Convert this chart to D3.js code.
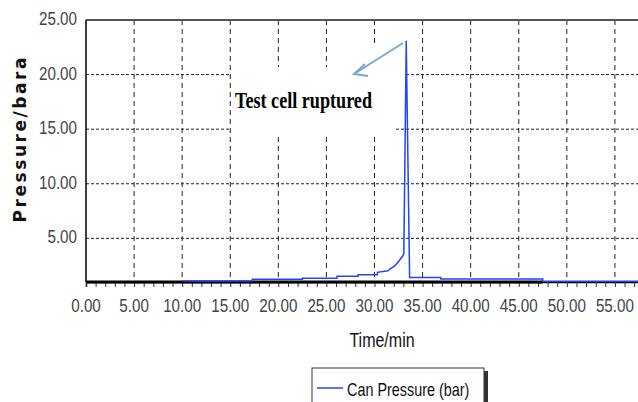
<!DOCTYPE html>
<html>
<head>
<meta charset="utf-8">
<script src="https://cdn.jsdelivr.net/npm/d3@7"></script>
<style>
  body { margin: 0; background: #fff; }
  svg { display: block; }
</style>
</head>
<body>
<svg width="638" height="402"></svg>
<script>
// blue series, can pressure (bar) against time (min)
var timeMin = [10, 17.3, 17.3, 22.5, 22.5, 26.1, 26.1, 28.3, 28.3, 30.3, 30.3, 31.4, 31.6, 32.1, 32.6, 32.95, 33.05, 33.3, 33.65, 36.9, 36.9, 47.5, 47.5, 60];
var canPressure = [1.1, 1.1, 1.25, 1.25, 1.35, 1.35, 1.52, 1.52, 1.67, 1.67, 1.89, 2.03, 2.19, 2.47, 3.0, 3.4, 3.6, 23.1, 1.42, 1.42, 1.27, 1.27, 1.06, 1.06];
// black base line (second trace)
var baseTime = [0, 47.5];
var basePressure = [1.0, 1.0];

var xTicks = [0, 5, 10, 15, 20, 25, 30, 35, 40, 45, 50, 55];
var yTicks = [5, 10, 15, 20, 25];
var legendLabel = 'Can Pressure (bar)';
var noteLabel = 'Test cell ruptured';

var svg = d3.select('svg');

var scaleX = d3.scaleLinear().domain([0, 60]).range([86, 663]);
var scaleY = d3.scaleLinear().domain([1, 25]).range([282, 20]);

// no narrow font installed, so squeeze Liberation Sans sideways
function narrowText(g, x, y, size, anchor, fill, str){
    return g.append('text')
        .attr('transform', 'translate(' + x + ',' + y + ') scale(0.8,1)')
        .attr('text-anchor', anchor)
        .attr('font-family', '"Liberation Sans", Arial, sans-serif')
        .attr('font-size', size)
        .attr('fill', fill)
        .text(str);
}

// grid lines
svg.append('g')
    .selectAll('line')
    .data(xTicks.filter(function(d){ return d > 0; }))
    .enter()
    .append('line')
    .attr('x1', function(d){ return scaleX(d); })
    .attr('x2', function(d){ return scaleX(d); })
    .attr('y1', scaleY(25))
    .attr('y2', scaleY(1))
    .attr('stroke', '#222')
    .attr('stroke-width', 1)
    .attr('stroke-dasharray', '5,4');

svg.append('g')
    .selectAll('line')
    .data(yTicks.filter(function(d){ return d < 25; }))
    .enter()
    .append('line')
    .attr('x1', scaleX(0))
    .attr('x2', 638)
    .attr('y1', function(d){ return scaleY(d); })
    .attr('y2', function(d){ return scaleY(d); })
    .attr('stroke', '#222')
    .attr('stroke-width', 1)
    .attr('stroke-dasharray', '3,2');

// white boxes of the note and arrow hide the grid
svg.append('rect').attr('x', 231).attr('y', 67).attr('width', 164).attr('height', 70).attr('fill', '#fff');
svg.append('rect').attr('x', 345).attr('y', 43).attr('width', 60).attr('height', 84).attr('fill', '#fff');

// top border
svg.append('line')
    .attr('x1', scaleX(0)).attr('x2', 638)
    .attr('y1', scaleY(25)).attr('y2', scaleY(25))
    .attr('stroke', '#555').attr('stroke-width', 2);

// x axis with minor ticks every minute
var xAxis = svg.append('g')
    .attr('transform', 'translate(0,' + scaleY(1) + ')')
    .call(d3.axisBottom(scaleX).ticks(60).tickSize(5).tickFormat(''));
xAxis.select('.domain').attr('stroke', '#000').attr('stroke-width', 1.5);
xAxis.selectAll('.tick line').attr('stroke', '#333');

var xLabels = svg.append('g');
xTicks.forEach(function(d){
    narrowText(xLabels, scaleX(d), 312, 19, 'middle', '#444', d.toFixed(2));
});

// y axis
svg.append('line')
    .attr('x1', scaleX(0)).attr('x2', scaleX(0))
    .attr('y1', scaleY(25)).attr('y2', scaleY(1))
    .attr('stroke', '#000').attr('stroke-width', 1.5);

var yLabels = svg.append('g');
yTicks.forEach(function(d){
    narrowText(yLabels, 77, scaleY(d) + 5, 19, 'end', '#444', d.toFixed(2));
});

// data lines
var line = d3.line()
    .x(function(d){ return scaleX(d[0]); })
    .y(function(d){ return scaleY(d[1]); });

svg.append('path')
    .attr('d', line(d3.zip(baseTime, basePressure)))
    .attr('fill', 'none')
    .attr('stroke', '#000')
    .attr('stroke-width', 3);

svg.append('path')
    .attr('d', line(d3.zip(timeMin, canPressure)))
    .attr('fill', 'none')
    .attr('stroke', '#2244ff')
    .attr('stroke-width', 1.5);

// axis titles
narrowText(svg, 382, 347, 20, 'middle', '#111', 'Time/min');

svg.append('text')
    .attr('transform', 'translate(26,140) rotate(-90)')
    .attr('text-anchor', 'middle')
    .attr('font-family', '"DejaVu Sans", sans-serif')
    .attr('font-weight', 'bold')
    .attr('font-size', 17)
    .attr('textLength', 165)
    .attr('lengthAdjust', 'spacing')
    .attr('fill', '#111')
    .text('Pressure/bara');

// annotation
svg.append('text')
    .attr('x', 235)
    .attr('y', 108)
    .attr('font-family', '"Liberation Serif", serif')
    .attr('font-weight', 'bold')
    .attr('font-size', 24)
    .attr('textLength', 137)
    .attr('lengthAdjust', 'spacingAndGlyphs')
    .attr('fill', '#000')
    .text(noteLabel);

svg.append('line')
    .attr('x1', 403).attr('y1', 43)
    .attr('x2', 354).attr('y2', 74)
    .attr('stroke', '#7aa6d8').attr('stroke-width', 2);
svg.append('path')
    .attr('d', 'M365,64 L354,74 L368,76')
    .attr('fill', 'none')
    .attr('stroke', '#7aa6d8').attr('stroke-width', 2);

// legend
svg.append('rect')
    .attr('x', 314).attr('y', 371).attr('width', 174).attr('height', 40)
    .attr('fill', '#333');
svg.append('rect')
    .attr('x', 312).attr('y', 368).attr('width', 172).attr('height', 40)
    .attr('fill', '#fff').attr('stroke', '#333').attr('stroke-width', 1);
svg.append('line')
    .attr('x1', 317).attr('x2', 343).attr('y1', 388).attr('y2', 388)
    .attr('stroke', '#2244ff').attr('stroke-width', 1.5);
narrowText(svg, 347, 396, 18, 'start', '#111', legendLabel);
</script>
</body>
</html>
